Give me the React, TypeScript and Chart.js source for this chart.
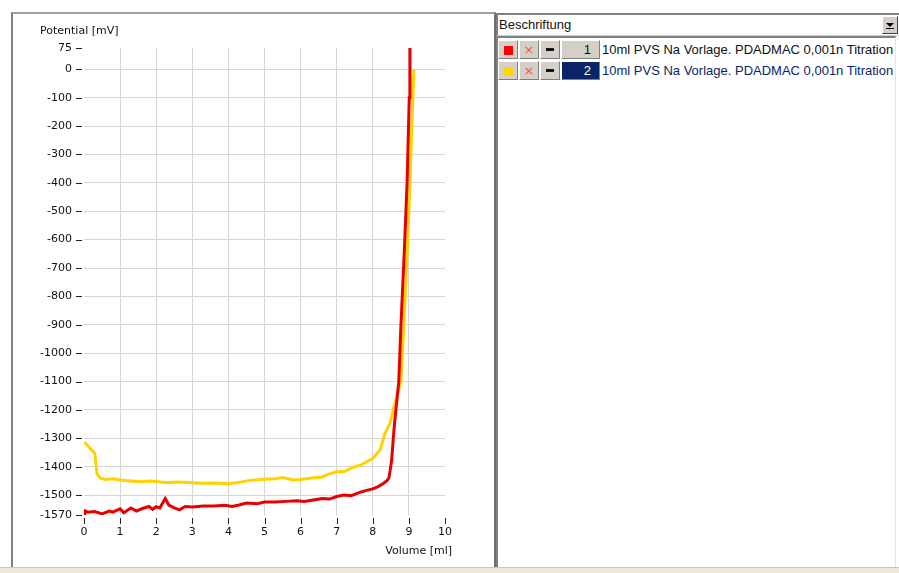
import React, { useEffect, useRef } from "react";
import { Chart, registerables } from "chart.js";

Chart.register(...registerables);

// ---- data ----
const redVolume = [0, 0.02, 0.1, 0.3, 0.5, 0.7, 0.8, 1.0, 1.1, 1.3, 1.45, 1.6, 1.8, 1.9, 2.0, 2.1, 2.25, 2.35, 2.5, 2.65, 2.8, 3.0, 3.3, 3.6, 3.9, 4.1, 4.3, 4.5, 4.8, 5.0, 5.3, 5.6, 5.9, 6.1, 6.4, 6.6, 6.8, 7.0, 7.2, 7.4, 7.6, 7.8, 8.0, 8.15, 8.3, 8.4, 8.45, 8.52, 8.58, 8.62, 8.72, 8.78, 8.87, 8.95, 9.01, 9.03];
const redPotential = [-1570, -1555, -1560, -1558, -1566, -1556, -1560, -1548, -1562, -1545, -1556, -1548, -1540, -1550, -1541, -1545, -1512, -1535, -1545, -1552, -1540, -1542, -1538, -1538, -1536, -1540, -1535, -1528, -1530, -1524, -1524, -1522, -1520, -1522, -1516, -1512, -1514, -1505, -1500, -1502, -1492, -1484, -1478, -1470, -1458, -1448, -1438, -1380, -1280, -1224, -1100, -900, -650, -400, -100, 75];

const yellowVolume = [0, 0.1, 0.2, 0.3, 0.36, 0.45, 0.6, 0.8, 1.0, 1.3, 1.6, 1.8, 2.0, 2.3, 2.6, 3.0, 3.3, 3.6, 3.9, 4.0, 4.3, 4.6, 5.0, 5.3, 5.5, 5.8, 6.0, 6.3, 6.6, 6.8, 7.0, 7.2, 7.4, 7.7, 8.0, 8.2, 8.34, 8.48, 8.6, 8.78, 8.86, 8.95, 9.03, 9.08, 9.14];
const yellowPotential = [-1313, -1325, -1340, -1352, -1425, -1440, -1445, -1442, -1447, -1450, -1453, -1450, -1452, -1456, -1454, -1456, -1458, -1457, -1459, -1460, -1455, -1448, -1444, -1442, -1438, -1447, -1445, -1440, -1436, -1425, -1418, -1418, -1405, -1392, -1370, -1341, -1282, -1246, -1180, -1100, -900, -650, -400, -200, 0];

const yTickValues = [75, 0, -100, -200, -300, -400, -500, -600, -700, -800, -900, -1000, -1100, -1200, -1300, -1400, -1500, -1570];
const xTickValues = [0, 1, 2, 3, 4, 5, 6, 7, 8, 9, 10];

const yAxisTitle = "Potential [mV]";
const xAxisTitle = "Volume [ml]";
const comboLabel = "Beschriftung";
const rowNumbers = [1, 2];
const rowLabels = [
  "10ml PVS Na Vorlage. PDADMAC 0,001n Titration",
  "10ml PVS Na Vorlage. PDADMAC 0,001n Titration",
];

const RED = "#e80000";
const YELLOW = "#ffd200";
const FONT = "'DejaVu Sans', Tahoma, sans-serif";
const PANEL_FONT = "'Liberation Sans', Arial, sans-serif";

const decorPlugin = {
  id: "decor",
  afterDraw(chart: any) {
    const { ctx, chartArea } = chart;
    const xs = chart.scales.x;
    const ys = chart.scales.y;
    ctx.save();
    ctx.strokeStyle = "#222";
    ctx.lineWidth = 1;
    ctx.beginPath();
    for (const v of yTickValues) {
      const py = Math.round(ys.getPixelForValue(v)) + 0.5;
      ctx.moveTo(chartArea.left - 8, py);
      ctx.lineTo(chartArea.left - 2, py);
    }
    for (const v of xTickValues) {
      const px = Math.round(xs.getPixelForValue(v)) + 0.5;
      ctx.moveTo(px, chartArea.bottom + 3);
      ctx.lineTo(px, chartArea.bottom + 9);
    }
    ctx.stroke();
    ctx.fillStyle = "#111";
    ctx.font = "11px " + FONT;
    ctx.textBaseline = "middle";
    ctx.textAlign = "left";
    ctx.fillText(yAxisTitle, 26, 17);
    ctx.textAlign = "right";
    ctx.fillText(xAxisTitle, 438, 537);
    ctx.restore();
  },
};

function ChartPanel() {
  const ref = useRef<HTMLCanvasElement | null>(null);
  useEffect(() => {
    if (!ref.current) return;
    const chart = new Chart(ref.current, {
      type: "line",
      data: {
        datasets: [
          {
            label: "1",
            data: redVolume.map((v, i) => ({ x: v, y: redPotential[i] })),
            borderColor: RED,
            backgroundColor: RED,
            borderWidth: 3,
            pointRadius: 0,
            tension: 0,
            order: 0,
          },
          {
            label: "2",
            data: yellowVolume.map((v, i) => ({ x: v, y: yellowPotential[i] })),
            borderColor: YELLOW,
            backgroundColor: YELLOW,
            borderWidth: 3,
            pointRadius: 0,
            tension: 0,
            order: 1,
          },
        ],
      },
      options: {
        animation: false,
        responsive: false,
        maintainAspectRatio: false,
        layout: { padding: { left: 0, top: 34, right: 49, bottom: 0 } },
        plugins: { legend: { display: false }, tooltip: { enabled: false } },
        scales: {
          x: {
            type: "linear",
            min: 0,
            max: 10,
            afterBuildTicks: (s: any) => {
              s.ticks = xTickValues.map((v) => ({ value: v }));
            },
            afterFit: (s: any) => {
              s.height = 52;
            },
            border: { display: false },
            grid: {
              drawTicks: false,
              color: (c: any) =>
                c.tick && (c.tick.value === 0 || c.tick.value === 10) ? "rgba(0,0,0,0)" : "#d6d6d6",
            },
            ticks: {
              padding: 11,
              color: "#111",
              font: { family: FONT, size: 11 },
              maxRotation: 0,
              autoSkip: false,
              callback: (v: any) => String(v),
            },
          },
          y: {
            type: "linear",
            min: -1570,
            max: 75,
            afterBuildTicks: (s: any) => {
              s.ticks = yTickValues.map((v) => ({ value: v }));
            },
            afterFit: (s: any) => {
              s.width = 70;
            },
            border: { display: false },
            grid: {
              drawTicks: false,
              color: (c: any) =>
                c.tick && (c.tick.value === 75 || c.tick.value === -1570) ? "rgba(0,0,0,0)" : "#d6d6d6",
            },
            ticks: {
              padding: 12,
              color: "#111",
              font: { family: FONT, size: 11 },
              autoSkip: false,
              callback: (v: any) => String(v),
            },
          },
        },
      },
      plugins: [decorPlugin],
    } as any);
    return () => chart.destroy();
  }, []);
  return <canvas ref={ref} width={480} height={553} style={{ display: "block" }} />;
}

const cellBase: React.CSSProperties = {
  position: "absolute",
  top: 0,
  height: 19,
  background: "#d4d0c8",
  borderTop: "1px solid #ffffff",
  borderLeft: "1px solid #ffffff",
  borderRight: "1px solid #808080",
  borderBottom: "1px solid #808080",
  boxSizing: "border-box",
};

function Row({ index, color }: { index: number; color: string }) {
  const selected = index === 1;
  return (
    <div style={{ position: "absolute", left: 0, top: 2 + index * 21, width: 400, height: 20 }}>
      <div style={{ ...cellBase, left: 0, width: 20 }}>
        <div style={{ position: "absolute", left: 5, top: 5, width: 9, height: 9, background: color }} />
      </div>
      <div style={{ ...cellBase, left: 21, width: 20 }}>
        <div
          style={{
            position: "absolute",
            left: 0,
            top: 0,
            width: 18,
            height: 17,
            textAlign: "center",
            lineHeight: "17px",
            color: "#f05a3c",
            fontFamily: FONT,
            fontSize: 13,
          }}
        >
          ×
        </div>
      </div>
      <div style={{ ...cellBase, left: 42, width: 20 }}>
        <div style={{ position: "absolute", left: 5, top: 7, width: 8, height: 3, background: "#111" }} />
      </div>
      <div
        style={{
          ...cellBase,
          left: 63,
          width: 39,
          background: selected ? "#0a246a" : "#d4d0c8",
          color: selected ? "#ffffff" : "#111",
          textAlign: "right",
          paddingRight: 8,
          fontFamily: PANEL_FONT,
          fontSize: 13,
          lineHeight: "17px",
        }}
      >
        {rowNumbers[index]}
      </div>
      <div
        style={{
          position: "absolute",
          left: 104,
          top: 0,
          height: 19,
          lineHeight: "19px",
          fontFamily: PANEL_FONT,
          fontSize: 13,
          color: selected ? "#0a246a" : "#111",
          whiteSpace: "nowrap",
        }}
      >
        {rowLabels[index]}
      </div>
    </div>
  );
}

export default function App() {
  return (
    <div
      style={{
        position: "absolute",
        left: 0,
        top: 0,
        width: 899,
        height: 573,
        background: "#ffffff",
        overflow: "hidden",
        fontFamily: FONT,
      }}
    >
      {/* left chart frame */}
      <div
        style={{
          position: "absolute",
          left: 11,
          top: 12,
          width: 485,
          height: 556,
          borderTop: "2px solid #a0a0a0",
          borderLeft: "2px solid #808080",
          borderRight: "2px solid #707070",
          boxSizing: "border-box",
        }}
      />
      <div style={{ position: "absolute", left: 14, top: 14 }}>
        <ChartPanel />
      </div>
      {/* combobox */}
      <div
        style={{
          position: "absolute",
          left: 496,
          top: 13,
          width: 403,
          height: 23,
          borderTop: "2px solid #808080",
          borderLeft: "2px solid #808080",
          borderBottom: "1px solid #d4d0c8",
          boxSizing: "border-box",
          background: "#fff",
        }}
      >
        <div
          style={{
            position: "absolute",
            left: 1,
            top: 1,
            fontFamily: PANEL_FONT,
            fontSize: 13,
            color: "#111",
            lineHeight: "18px",
          }}
        >
          {comboLabel}
        </div>
        <div
          style={{
            position: "absolute",
            right: 1,
            top: 1,
            width: 16,
            height: 18,
            background: "#d4d0c8",
            borderTop: "1px solid #fff",
            borderLeft: "1px solid #fff",
            borderRight: "1px solid #404040",
            borderBottom: "1px solid #404040",
            boxSizing: "border-box",
          }}
        >
          <div
            style={{
              position: "absolute",
              left: 3,
              top: 6,
              width: 0,
              height: 0,
              borderLeft: "4px solid transparent",
              borderRight: "4px solid transparent",
              borderTop: "4px solid #000",
            }}
          />
          <div style={{ position: "absolute", left: 3, top: 11, width: 8, height: 1, background: "#000" }} />
        </div>
      </div>
      {/* list area */}
      <div
        style={{
          position: "absolute",
          left: 496,
          top: 36,
          width: 400,
          height: 532,
          borderTop: "2px solid #808080",
          borderLeft: "2px solid #808080",
          borderRight: "1px solid #e4e4e4",
          boxSizing: "border-box",
          background: "#fff",
        }}
      >
        <Row index={0} color="#ff0000" />
        <Row index={1} color="#ffd700" />
      </div>
      {/* bottom band */}
      <div style={{ position: "absolute", left: 0, top: 567, width: 899, height: 1, background: "#c8c8c8" }} />
      <div style={{ position: "absolute", left: 0, top: 568, width: 899, height: 5, background: "#ece9d8" }} />
    </div>
  );
}
